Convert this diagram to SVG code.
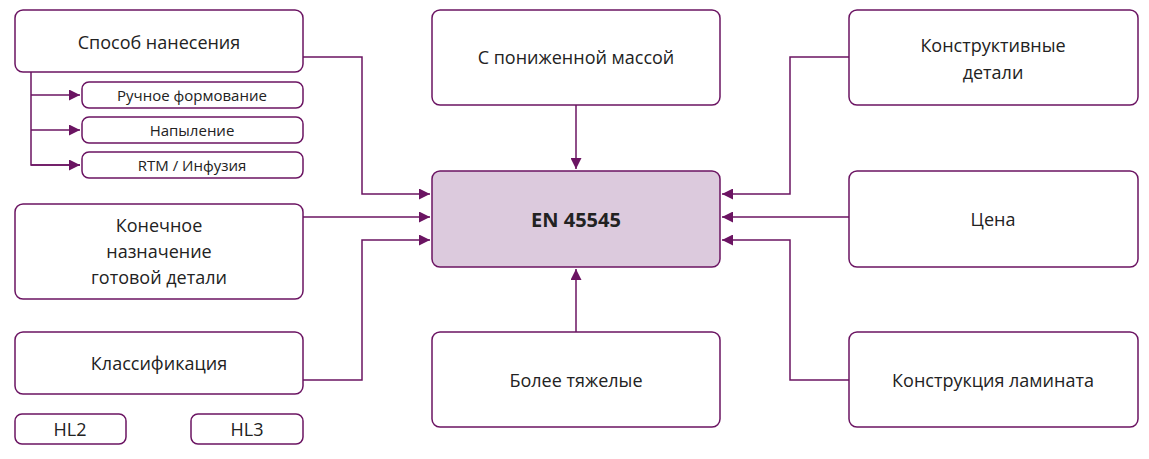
<svg xmlns="http://www.w3.org/2000/svg" width="1149" height="459" viewBox="0 0 1149 459">
<style>
.n{fill:#fff;stroke:#6b1462;stroke-width:1.5}
.c{fill:#dccadd;stroke:#6b1462;stroke-width:1.5}
text{font-family:"Open Sans","Noto Sans",sans-serif;fill:#222;text-anchor:middle;dominant-baseline:central;font-size:18px}
.s{font-size:15px}
.b{font-weight:bold;font-size:20px}
.l{fill:none;stroke:#6b1462;stroke-width:1.5}
</style>
<defs><marker id="a" viewBox="0 0 10 10" refX="10" refY="5" markerWidth="16" markerHeight="11" markerUnits="userSpaceOnUse" orient="auto"><path d="M0,0L10,5L0,10z" fill="#6b1462"/></marker></defs>
<rect width="1149" height="459" fill="#fff"/>
<g id="connectors">
<path class="l" d="M303,57H362V194H430" marker-end="url(#a)"/>
<path class="l" d="M303,217H430" marker-end="url(#a)"/>
<path class="l" d="M303,380H362V240H430" marker-end="url(#a)"/>
<path class="l" d="M849,57H790V194H722" marker-end="url(#a)"/>
<path class="l" d="M849,217H722" marker-end="url(#a)"/>
<path class="l" d="M849,380H790V240H722" marker-end="url(#a)"/>
<path class="l" d="M576,105V169" marker-end="url(#a)"/>
<path class="l" d="M576,332V269" marker-end="url(#a)"/>
<path class="l" d="M31,72V165H80"/>
<path class="l" d="M31,95H80" marker-end="url(#a)"/>
<path class="l" d="M31,130H80" marker-end="url(#a)"/>
<path class="l" d="M31,165H80" marker-end="url(#a)"/>
</g>
<g id="n1"><rect class="n" x="15" y="10" width="288" height="62" rx="8"/><text x="159" y="42">Способ нанесения</text></g>
<g id="n2"><rect class="n" x="82" y="82" width="221" height="26" rx="7"/><text class="s" x="192" y="95">Ручное формование</text></g>
<g id="n3"><rect class="n" x="82" y="117" width="221" height="26" rx="7"/><text class="s" x="192" y="130">Напыление</text></g>
<g id="n4"><rect class="n" x="82" y="152" width="221" height="26" rx="7"/><text class="s" x="192" y="165">RTM / Инфузия</text></g>
<g id="n5"><rect class="n" x="15" y="204" width="288" height="95" rx="8"/><text x="159" y="225">Конечное</text><text x="159" y="251">назначение</text><text x="159" y="277">готовой детали</text></g>
<g id="n6"><rect class="n" x="15" y="332" width="288" height="62" rx="8"/><text x="159" y="363">Классификация</text></g>
<g id="n7"><rect class="n" x="15" y="414" width="111" height="30" rx="7"/><text x="70" y="429">HL2</text></g>
<g id="n8"><rect class="n" x="191" y="414" width="112" height="30" rx="7"/><text x="247" y="429">HL3</text></g>
<g id="n9"><rect class="n" x="432" y="10" width="288" height="95" rx="8"/><text x="576" y="57">С пониженной массой</text></g>
<g id="n10"><rect class="c" x="432" y="171" width="288" height="96" rx="8"/><text class="b" x="576" y="219">EN 45545</text></g>
<g id="n11"><rect class="n" x="432" y="332" width="288" height="95" rx="8"/><text x="576" y="380">Более тяжелые</text></g>
<g id="n12"><rect class="n" x="849" y="10" width="289" height="95" rx="8"/><text x="993" y="45">Конструктивные</text><text x="993" y="72">детали</text></g>
<g id="n13"><rect class="n" x="849" y="171" width="289" height="96" rx="8"/><text x="993" y="219">Цена</text></g>
<g id="n14"><rect class="n" x="849" y="332" width="289" height="95" rx="8"/><text x="993" y="380">Конструкция ламината</text></g>
</svg>
